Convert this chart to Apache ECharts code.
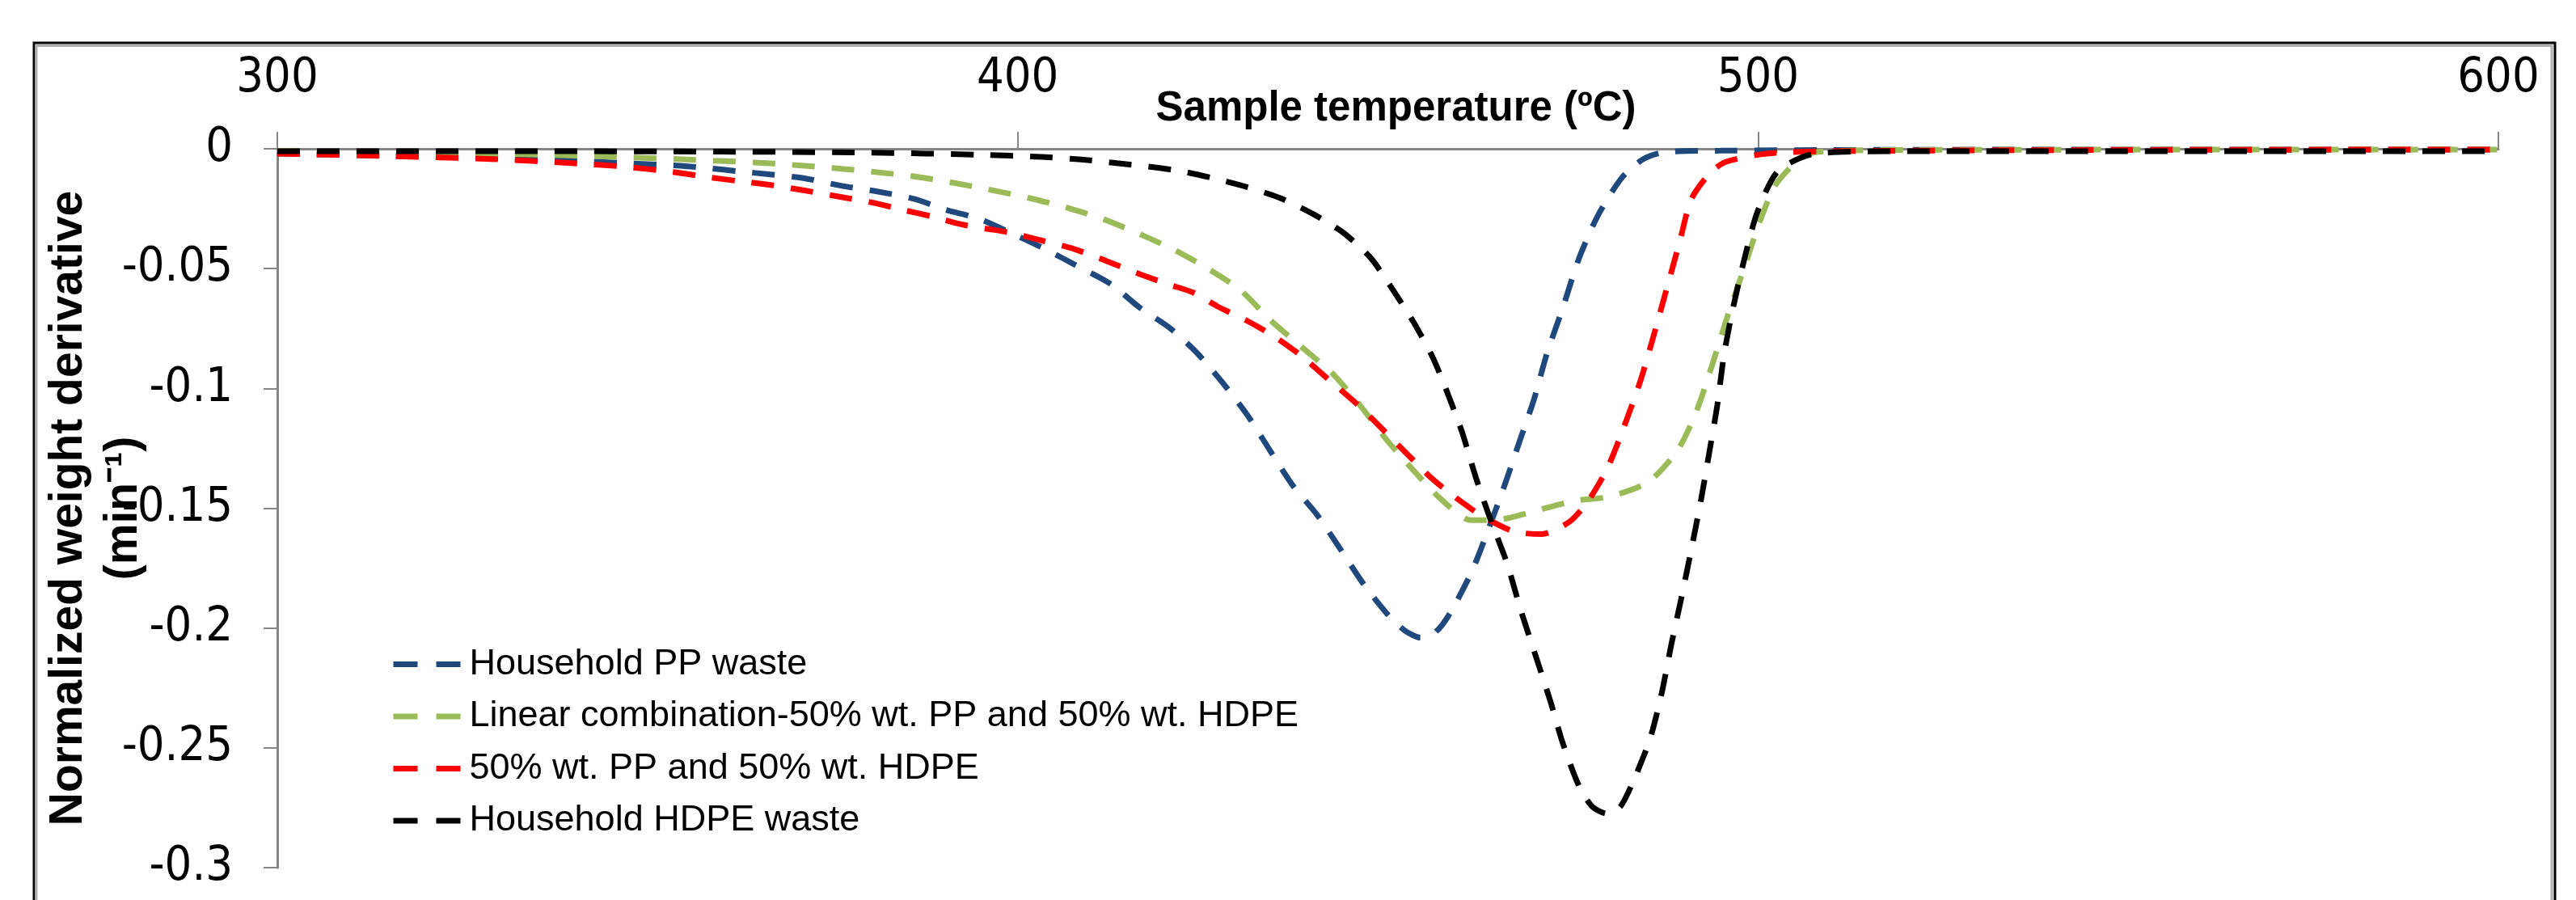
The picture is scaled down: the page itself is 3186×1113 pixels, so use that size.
<!DOCTYPE html>
<html>
<head>
<meta charset="utf-8">
<script src="https://cdn.jsdelivr.net/npm/echarts@6/dist/echarts.min.js"></script>
<style>
html,body{margin:0;padding:0;background:#fff;}
#chart{width:3186px;height:1113px;}
</style>
</head>
<body>
<div id="chart"></div>
<script>
// ---- data ----
const seriesNames = [
  'Household PP waste',
  'Linear combination-50% wt. PP and 50% wt. HDPE',
  '50% wt. PP and 50% wt. HDPE',
  'Household HDPE waste'
];
const xTicks = [300, 400, 500, 600];
const yTicks = [0, -0.05, -0.1, -0.15, -0.2, -0.25, -0.3];

const ppT = [300, 315, 330, 340, 347, 354, 358, 362, 366.6, 371.2, 376.1, 381, 386.1, 390.3, 394.6, 399, 403.8, 408.1, 412.5, 416.5, 420.5, 424.1, 427.7, 431, 434.1, 437.2, 440.5, 443.7, 446.8, 450.3, 452.5, 454.4, 456.5, 458.4, 461.4, 463.6, 465.7, 467.8, 469.7, 471.5, 473.7, 475.7, 478.3, 481.6, 484.5, 487.4, 495, 510, 550, 600];
const ppV = [-0.002, -0.003, -0.004, -0.005, -0.006, -0.007, -0.008, -0.0093, -0.0107, -0.0123, -0.0154, -0.0178, -0.021, -0.0255, -0.029, -0.035, -0.042, -0.049, -0.0563, -0.0663, -0.0747, -0.0848, -0.0977, -0.111, -0.126, -0.1407, -0.153, -0.1676, -0.182, -0.1955, -0.2015, -0.204, -0.2015, -0.1938, -0.176, -0.1586, -0.141, -0.122, -0.105, -0.0853, -0.0658, -0.0467, -0.0283, -0.0121, -0.0043, -0.0014, -0.0008, -0.0005, -0.0003, -0.0003];

const linT = [300, 320, 336, 345, 354, 359, 364.5, 369.5, 375, 380.5, 385.9, 391, 396.1, 401.5, 406.6, 411.6, 416.5, 421.2, 425.7, 430.1, 434.1, 438.3, 442.5, 446.1, 449.9, 453.4, 457, 461.2, 465.6, 470.3, 475.2, 479.9, 485.2, 489.2, 491.7, 493.9, 495.9, 498.1, 500.1, 502.3, 505.6, 508.1, 520, 600];
const linV = [-0.001, -0.0015, -0.0025, -0.0033, -0.0043, -0.005, -0.0057, -0.0067, -0.008, -0.0096, -0.0115, -0.014, -0.017, -0.0205, -0.0245, -0.0294, -0.0356, -0.0423, -0.05, -0.059, -0.0714, -0.0826, -0.0937, -0.1065, -0.1217, -0.134, -0.1457, -0.155, -0.1545, -0.1508, -0.1469, -0.1452, -0.139, -0.1255, -0.1094, -0.0893, -0.0697, -0.05, -0.0316, -0.0154, -0.0043, -0.0013, -0.0005, -0.0003];

const mixT = [300, 315, 328.9, 339.8, 347, 353.2, 358.1, 362.1, 366.6, 371.2, 375.9, 380.3, 384.5, 388.5, 392.5, 395.7, 399, 402.9, 407.5, 411.9, 416.5, 420.6, 423.7, 427, 431, 434.5, 438.1, 441.9, 446, 449.6, 452.8, 456.1, 459, 462.6, 467, 470.8, 474.6, 477.2, 479.7, 481.9, 484.1, 485.9, 487.7, 489.4, 491, 493.6, 495.7, 501.2, 510, 550, 600];
const mixV = [-0.002, -0.003, -0.0043, -0.006, -0.0075, -0.0096, -0.0118, -0.0134, -0.0151, -0.0174, -0.02, -0.0224, -0.0255, -0.0283, -0.0316, -0.0333, -0.035, -0.038, -0.0417, -0.0467, -0.0523, -0.0568, -0.06, -0.0658, -0.0718, -0.078, -0.0859, -0.096, -0.107, -0.118, -0.128, -0.138, -0.1452, -0.153, -0.1597, -0.1608, -0.1555, -0.1463, -0.133, -0.116, -0.097, -0.078, -0.058, -0.039, -0.021, -0.0098, -0.0054, -0.002, -0.001, -0.0005, -0.0003];

const hdpeT = [300, 330, 360, 380, 395, 403.2, 408.6, 413.4, 418.1, 422.5, 426.8, 431, 435.4, 439.9, 444.1, 447.7, 450.5, 453.5, 456.1, 458, 460, 461.9, 463.9, 466.1, 467.9, 469.9, 471.9, 473.7, 475.9, 477.6, 479.6, 481.4, 483, 485.4, 487, 488.3, 489.7, 491, 492.3, 493.4, 494.5, 495.4, 496.6, 498.1, 499.9, 502.7, 507.7, 520, 600];
const hdpeV = [-0.001, -0.001, -0.0012, -0.0016, -0.0025, -0.0034, -0.0045, -0.006, -0.0076, -0.0096, -0.0126, -0.016, -0.0205, -0.0272, -0.0353, -0.0456, -0.058, -0.0725, -0.0873, -0.1015, -0.118, -0.1373, -0.155, -0.173, -0.192, -0.211, -0.23, -0.2487, -0.2665, -0.2745, -0.2775, -0.2745, -0.265, -0.2464, -0.227, -0.2067, -0.1866, -0.167, -0.1465, -0.127, -0.107, -0.086, -0.0668, -0.0467, -0.0265, -0.0093, -0.002, -0.001, -0.001];

const colors = ['#1F497D', '#9BBB59', '#FF0000', '#000000'];

// ---- build ----
function zip(t, v) { return t.map((x, i) => [x, v[i]]); }
const allData = [zip(ppT, ppV), zip(linT, linV), zip(mixT, mixV), zip(hdpeT, hdpeV)];

const tickFont = "'Liberation Sans Narrow', 'DejaVu Sans Condensed', 'Liberation Sans', sans-serif";
const chart = echarts.init(document.getElementById('chart'), null, {renderer: 'canvas'});

chart.setOption({
  backgroundColor: '#ffffff',
  animation: false,
  color: colors,
  grid: {left: 343, right: 96, top: 184, bottom: 40, containLabel: false},
  graphic: [
    {type: 'rect', z: -1, shape: {x: 42, y: 53, width: 3118, height: 1200},
     style: {fill: 'none', stroke: '#000000', lineWidth: 3}},
    {type: 'rect', z: -1, shape: {x: 45, y: 56.5, width: 3111, height: 1200},
     style: {fill: 'none', stroke: '#b0b0b0', lineWidth: 3}}
  ],
  legend: {
    orient: 'vertical',
    left: 478,
    top: 793,
    itemWidth: 83,
    itemHeight: 14,
    itemGap: 17.5,
    lineStyle: {type: [30, 23], width: 7},
    itemStyle: {color: 'rgba(0,0,0,0)', borderWidth: 0, opacity: 0},
    textStyle: {fontFamily: "'Liberation Sans', sans-serif", fontSize: 45, lineHeight: 47, color: '#000', padding: [0, 0, 0, 6]},
    data: seriesNames
  },
  xAxis: {
    type: 'value',
    position: 'top',
    min: 300, max: 600, interval: 100,
    name: 'Sample temperature (ºC)',
    nameLocation: 'middle',
    nameGap: 24,
    nameMoveOverlap: false,
    nameTextStyle: {fontFamily: "'Liberation Sans', sans-serif", fontWeight: 'bold', fontSize: 51, color: '#000', padding: [0, 0, 0, 20]},
    axisLine: {show: true, onZero: false, lineStyle: {color: '#868686', width: 3}},
    axisTick: {show: true, inside: false, length: 21, lineStyle: {color: '#868686', width: 2}},
    axisLabel: {margin: 57, fontFamily: tickFont, fontSize: 59, color: '#000'},
    splitLine: {show: false}
  },
  yAxis: {
    type: 'value',
    min: -0.3, max: 0, interval: 0.05,
    name: 'Normalized weight derivative\n(min⁻¹)',
    nameLocation: 'middle',
    nameRotate: 90,
    nameGap: 156,
    nameMoveOverlap: false,
    nameTextStyle: {fontFamily: "'Liberation Sans', sans-serif", fontWeight: 'bold', fontSize: 57, lineHeight: 68, color: '#000', align: 'center'},
    axisLine: {show: true, onZero: false, lineStyle: {color: '#868686', width: 3}},
    axisTick: {show: true, inside: false, length: 17, lineStyle: {color: '#868686', width: 2}},
    axisLabel: {margin: 55, fontFamily: tickFont, fontSize: 59, color: '#000',
      formatter: v => String(+v.toFixed(2))},
    splitLine: {show: false}
  },
  series: seriesNames.map((n, i) => ({
    name: n,
    type: 'line',
    data: allData[i],
    showSymbol: false,
    symbol: 'none',
    smooth: 0.25,
    clip: true,
    lineStyle: {color: colors[i], width: 7, type: [28, 21]},
    itemStyle: {color: colors[i]},
    z: 2 + i
  }))
});
</script>
</body>
</html>
